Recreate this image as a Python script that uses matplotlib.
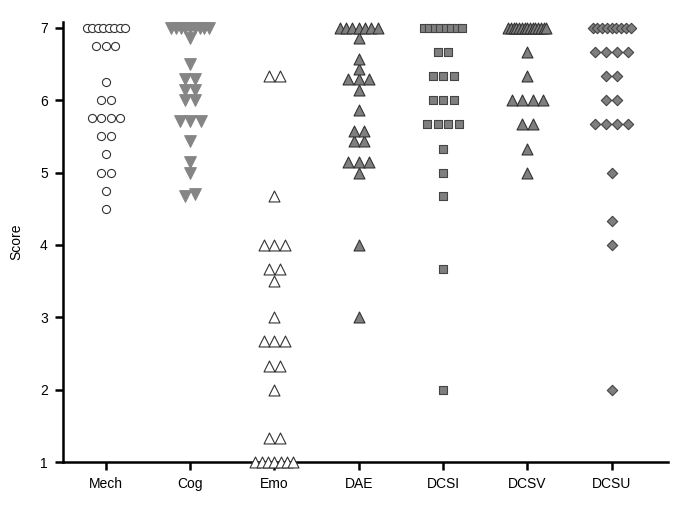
import numpy as np
import matplotlib.pyplot as plt

plt.rcParams['font.family'] = ['Liberation Sans', 'DejaVu Sans']

categories = ['Mech', 'Cog', 'Emo', 'DAE', 'DCSI', 'DCSV', 'DCSU']

mech = [7, 7, 7, 7, 7, 7, 7, 7, 6.75, 6.75, 6.75, 6.25, 6.0, 6.0,
        5.75, 5.75, 5.75, 5.75, 5.5, 5.5, 5.25, 5.0, 5.0, 4.75, 4.5]
cog = [7, 7, 7, 7, 7, 7, 7, 7, 7, 6.86, 6.5, 6.29, 6.29, 6.14, 6.14,
       6.0, 6.0, 5.71, 5.71, 5.71, 5.43, 5.14, 5.0, 4.67, 4.71]
emo = [6.33, 6.33, 4.67, 4.0, 4.0, 4.0, 3.67, 3.67, 3.5, 3.0, 2.67, 2.67,
       2.67, 2.33, 2.33, 2.0, 1.33, 1.33, 1, 1, 1, 1, 1, 1, 1]
dae = [7, 7, 7, 7, 7, 7, 7, 6.86, 6.57, 6.43, 6.29, 6.29, 6.29, 6.14,
       5.86, 5.57, 5.57, 5.43, 5.43, 5.14, 5.14, 5.14, 5.0, 4.0, 3.0]
dcsi = [7, 7, 7, 7, 7, 7, 7, 7, 6.67, 6.67, 6.33, 6.33, 6.33, 6.0, 6.0,
        6.0, 5.67, 5.67, 5.67, 5.67, 5.33, 5.0, 4.67, 3.67, 2.0]
dcsv = [7, 7, 7, 7, 7, 7, 7, 7, 7, 7, 7, 7, 7, 7, 7, 6.67, 6.33,
        6.0, 6.0, 6.0, 6.0, 5.67, 5.67, 5.33, 5.0]
dcsu = [7, 7, 7, 7, 7, 7, 7, 7, 7, 6.67, 6.67, 6.67, 6.67, 6.33, 6.33,
        6.0, 6.0, 5.67, 5.67, 5.67, 5.67, 5.0, 4.33, 4.0, 2.0]

series = [mech, cog, emo, dae, dcsi, dcsv, dcsu]

# marker, face, edge, size (pt^2), spacing between neighbours (px)
styles = [
    ('o', 'white', '#333333', 34, 9.5),
    ('v', '#858585', '#858585', 70, 10.5),
    ('^', 'white', '#333333', 62, 10.5),
    ('^', '#7f7f7f', '#333333', 62, 10.5),
    ('s', '#7f7f7f', '#444444', 34, 10.5),
    ('^', '#7f7f7f', '#333333', 62, 10.5),
    ('D', '#7f7f7f', '#444444', 28, 11.0),
]

W, H = 685, 513
fig = plt.figure(figsize=(W / 100, H / 100), dpi=100)
ax = fig.add_axes([63 / W, 51 / H, 605 / W, 440 / H])
xmin, xmax = -0.51, 6.67
ax.set_xlim(xmin, xmax)
ax.set_ylim(1, 7.08)
px = 605 / (xmax - xmin)   # pixels per category unit


def spread(vals, step, maxspan=38, tol=0.06):
    # put (nearly) equal values side by side, centred, Prism style
    vals = sorted(vals)
    groups = [[vals[0]]]
    for v in vals[1:]:
        if v - groups[-1][-1] <= tol:
            groups[-1].append(v)
        else:
            groups.append([v])
    xs, ys = [], []
    for g in groups:
        n = len(g)
        s = step if n == 1 else min(step, maxspan / (n - 1))
        for k, v in enumerate(g):
            xs.append((k - (n - 1) / 2) * s / px)
            ys.append(v)
    return np.array(xs), np.array(ys)


for i, vals in enumerate(series):
    m, fc, ec, sz, step = styles[i]
    dx, yv = spread(vals, step)
    ax.scatter(i + dx, yv, marker=m, s=sz, facecolor=fc, edgecolor=ec,
               linewidth=0.8, clip_on=False, zorder=3)

ax.set_xticks(range(len(categories)))
ax.set_xticklabels(categories)
ax.set_yticks(range(1, 8))
ax.set_ylabel('Score', fontsize=10, labelpad=12)

for side in ['top', 'right']:
    ax.spines[side].set_visible(False)
for side in ['left', 'bottom']:
    ax.spines[side].set_linewidth(1.8)
ax.tick_params(width=1.8, length=6, labelsize=10, pad=5)

fig.savefig('out.png', dpi=100)
